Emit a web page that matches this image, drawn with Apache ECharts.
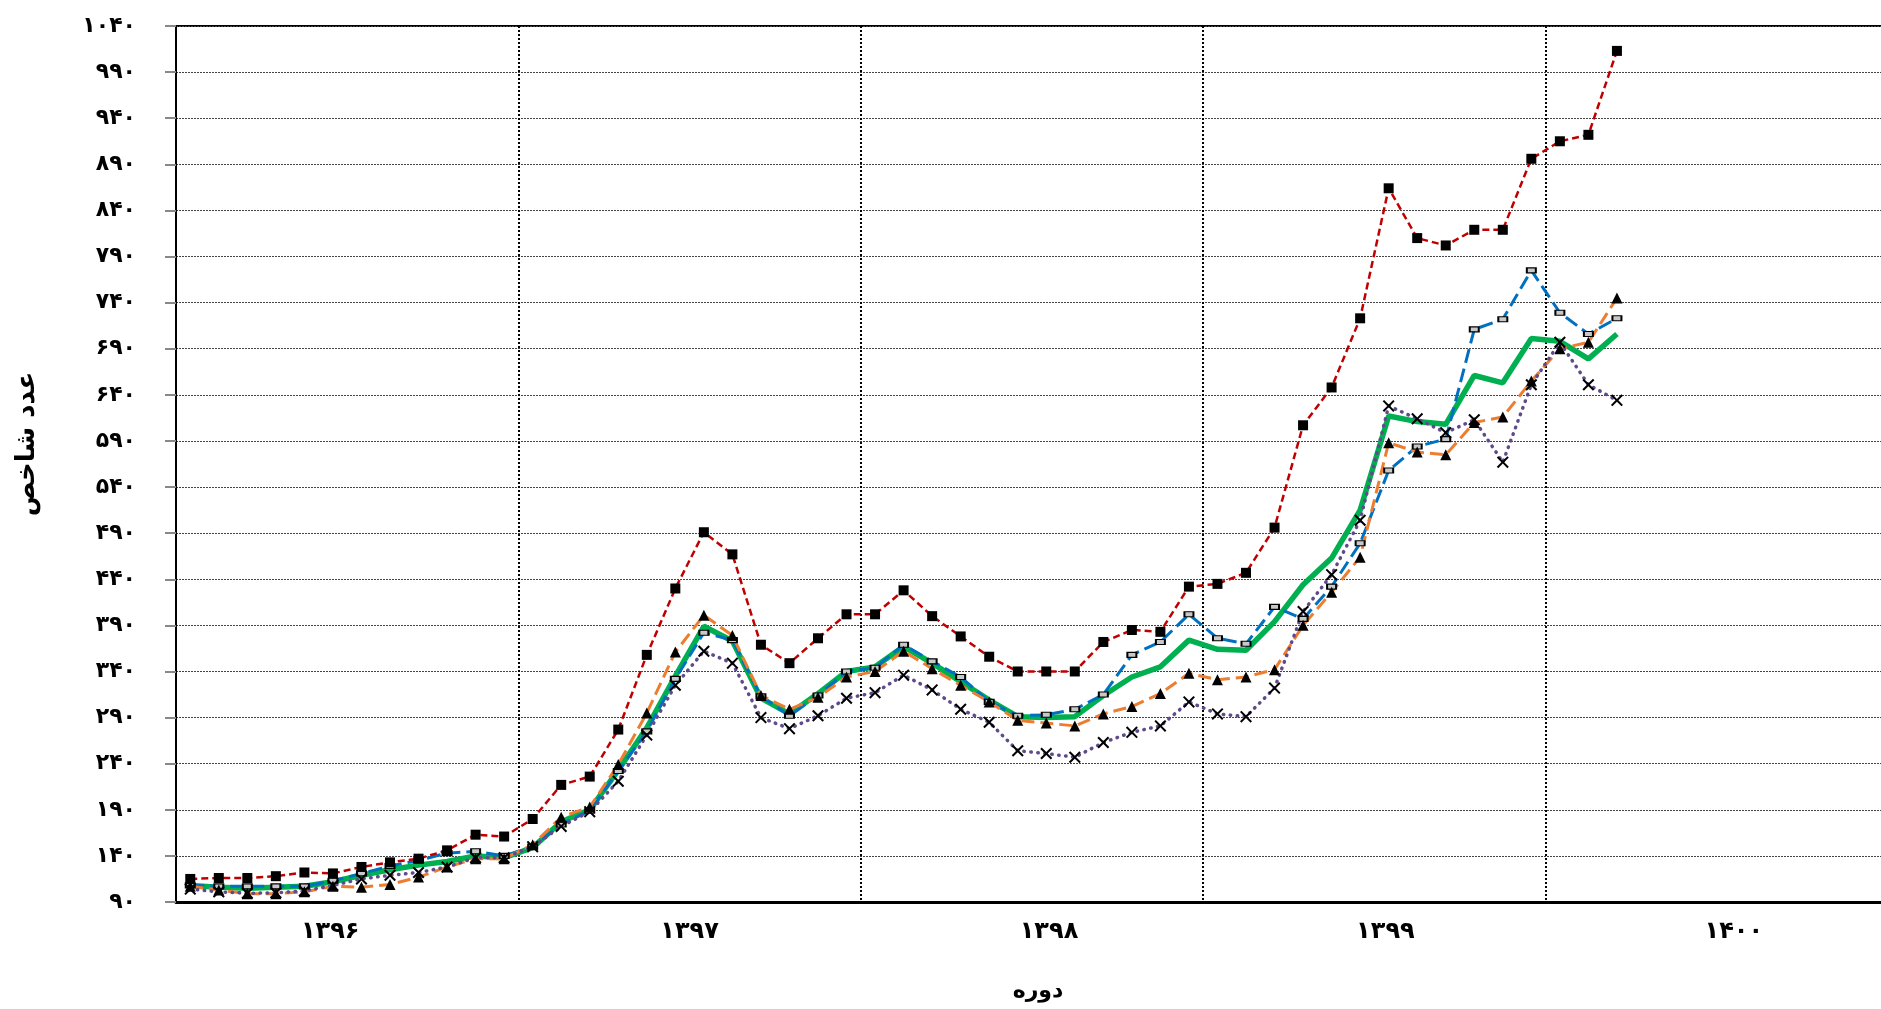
<!DOCTYPE html>
<html>
<head>
<meta charset="utf-8">
<script src="https://cdn.jsdelivr.net/npm/echarts@6/dist/echarts.min.js"></script>
<style>
html,body{margin:0;padding:0;background:#fff;}
#chart{width:1881px;height:1009px;}
</style>
</head>
<body>
<div id="chart"></div>
<script>
// ---- data ----
const years = ['۱۳۹۶', '۱۳۹۷', '۱۳۹۸', '۱۳۹۹', '۱۴۰۰'];
const monthsPerYear = 12;
const months = years.flatMap(y => Array.from({length: monthsPerYear}, (_, m) => y + '/' + (m + 1)));

const yMin = 90, yMax = 1040, yStep = 50;
const faDigits = ['۰','۱','۲','۳','۴','۵','۶','۷','۸','۹'];

const yAxisTitle = 'عدد شاخص';
const xAxisTitle = 'دوره';

// red dashed, square markers
const seriesRed = [115, 116, 116, 118, 122, 121, 128, 133, 137, 146, 163, 161,
  180, 217, 226, 277, 358, 430, 491, 467, 369, 349, 376, 402,
  402, 428, 400, 378, 356, 340, 340, 340, 372, 385, 383, 432,
  435, 447, 496, 607, 648, 723, 864, 810, 802, 819, 819, 896,
  915, 922, 1013];
// blue long dash, small rectangle markers
const seriesBlue = [108, 107, 107, 107, 107, 113, 121, 129, 135, 143, 145, 140,
  150, 174, 189, 232, 275, 332, 382, 374, 313, 292, 314, 340,
  344, 369, 351, 334, 307, 292, 293, 299, 315, 358, 372, 402,
  376, 370, 410, 397, 432, 479, 558, 584, 592, 711, 722, 775,
  729, 706, 723];
// green thick solid
const seriesGreen = [108, 106, 105, 106, 107, 112, 119, 125, 130, 134, 140, 138,
  149, 177, 190, 233, 279, 335, 389, 373, 311, 294, 316, 340,
  345, 367, 349, 329, 309, 291, 290, 291, 314, 334, 345, 374,
  364, 363, 394, 434, 463, 515, 617, 611, 608, 661, 653, 701,
  698, 679, 706];
// orange long dash, triangle markers
const seriesOrange = [107, 103, 99, 99, 101, 107, 106, 109, 117, 128, 137, 137,
  152, 182, 193, 239, 295, 361, 401, 379, 314, 299, 312, 334,
  340, 362, 343, 325, 307, 287, 284, 281, 294, 302, 316, 338,
  331, 334, 342, 390, 426, 464, 588, 578, 575, 610, 616, 655,
  690, 697, 745];
// purple dotted, x markers
const seriesPurple = [104, 101, 99.5, 100, 102, 108, 115, 119, 122, 128, 138, 138,
  150, 172, 188, 221, 271, 325, 362, 349, 290, 278, 292, 311,
  317, 336, 320, 299, 285, 254, 251, 247, 263, 274, 281, 307,
  294, 291, 322, 405, 445, 504, 628, 614, 599, 613, 567, 651,
  697, 651, 634];

// ---- helpers ----
function toFa(v) { return String(v).replace(/[0-9]/g, d => faDigits[+d]); }
const FONT = '"DejaVu Sans", "Noto Sans", sans-serif';
const yearShift = [-17, 0, 17, 11, 17];
const yearRich = {};
yearShift.forEach((s, i) => {
  yearRich['y' + i] = {
    fontFamily: FONT, fontWeight: 'bold', fontSize: 24, color: '#000',
    padding: s < 0 ? [0, -2 * s, 0, 0] : [0, 0, 0, 2 * s]
  };
});
const xPath = 'path://M1.2,0 L5,3.8 L8.8,0 L10,1.2 L6.2,5 L10,8.8 L8.8,10 L5,6.2 L1.2,10 L0,8.8 L3.8,5 L0,1.2 Z';

const chart = echarts.init(document.getElementById('chart'), null, {renderer: 'canvas'});
chart.setOption({
  animation: false,
  backgroundColor: '#fff',
  grid: {
    left: 176, top: 26, width: 1712, height: 876,
    outerBoundsMode: 'none', containLabel: false,
    show: true, borderColor: '#000', borderWidth: 2, backgroundColor: 'transparent'
  },
  xAxis: [
    {
      type: 'category', data: months, boundaryGap: true, position: 'bottom',
      axisLine: {show: true, onZero: false, lineStyle: {color: '#000', width: 3}},
      axisTick: {show: false}, axisLabel: {show: false}, splitLine: {show: false},
      name: xAxisTitle, nameLocation: 'middle', nameGap: 78,
      nameTextStyle: {fontFamily: FONT, fontWeight: 'bold', fontSize: 22, color: '#000', padding: [0, 0, 0, 12]}
    },
    {
      type: 'category', data: years, boundaryGap: true, position: 'bottom',
      axisLine: {show: false, onZero: false}, axisTick: {show: false},
      axisLabel: {
        show: true, interval: 0, margin: 18,
        formatter: (v, i) => '{y' + i + '|' + v + '}',
        rich: yearRich
      },
      splitLine: {show: true, interval: 0, lineStyle: {color: '#000', width: 2, type: [2, 2]}}
    }
  ],
  yAxis: {
    type: 'value', min: yMin, max: yMax, interval: yStep,
    axisLine: {show: true, lineStyle: {color: '#000', width: 2}},
    axisTick: {show: true, inside: false, length: 11, lineStyle: {color: '#888', width: 2}},
    axisLabel: {
      margin: 40, formatter: v => toFa(v),
      fontFamily: FONT, fontWeight: 'bold', fontSize: 22, color: '#000'
    },
    splitLine: {show: true, lineStyle: {color: '#444', width: 1, type: [2, 1]}},
    name: yAxisTitle, nameLocation: 'middle', nameGap: 136, nameRotate: 90,
    nameTextStyle: {fontFamily: FONT, fontWeight: 'bold', fontSize: 26, color: '#000', padding: [0, 0, 0, 40]}
  },
  series: [
    {
      name: 'green', type: 'line', xAxisIndex: 0, data: seriesGreen,
      showSymbol: false, symbol: 'none',
      lineStyle: {color: '#00B050', width: 5.5, type: 'solid'}
    },
    {
      name: 'blue', type: 'line', xAxisIndex: 0, data: seriesBlue,
      symbol: 'rect', symbolSize: [9, 5],
      itemStyle: {color: '#c8c8c8', borderColor: '#000', borderWidth: 1.5},
      lineStyle: {color: '#0070C0', width: 3, type: [14, 6]}
    },
    {
      name: 'orange', type: 'line', xAxisIndex: 0, data: seriesOrange,
      symbol: 'triangle', symbolSize: 11,
      itemStyle: {color: '#000'},
      lineStyle: {color: '#ED7D31', width: 3, type: [13, 6]}
    },
    {
      name: 'purple', type: 'line', xAxisIndex: 0, data: seriesPurple,
      symbol: xPath, symbolSize: 12,
      itemStyle: {color: '#000'},
      lineStyle: {color: '#5F4B8B', width: 3.5, type: [0.5, 6.5], cap: 'round'}
    },
    {
      name: 'red', type: 'line', xAxisIndex: 0, data: seriesRed,
      symbol: 'rect', symbolSize: 10,
      itemStyle: {color: '#000'},
      lineStyle: {color: '#C00000', width: 2.5, type: [7, 4]}
    }
  ]
});
</script>
</body>
</html>
